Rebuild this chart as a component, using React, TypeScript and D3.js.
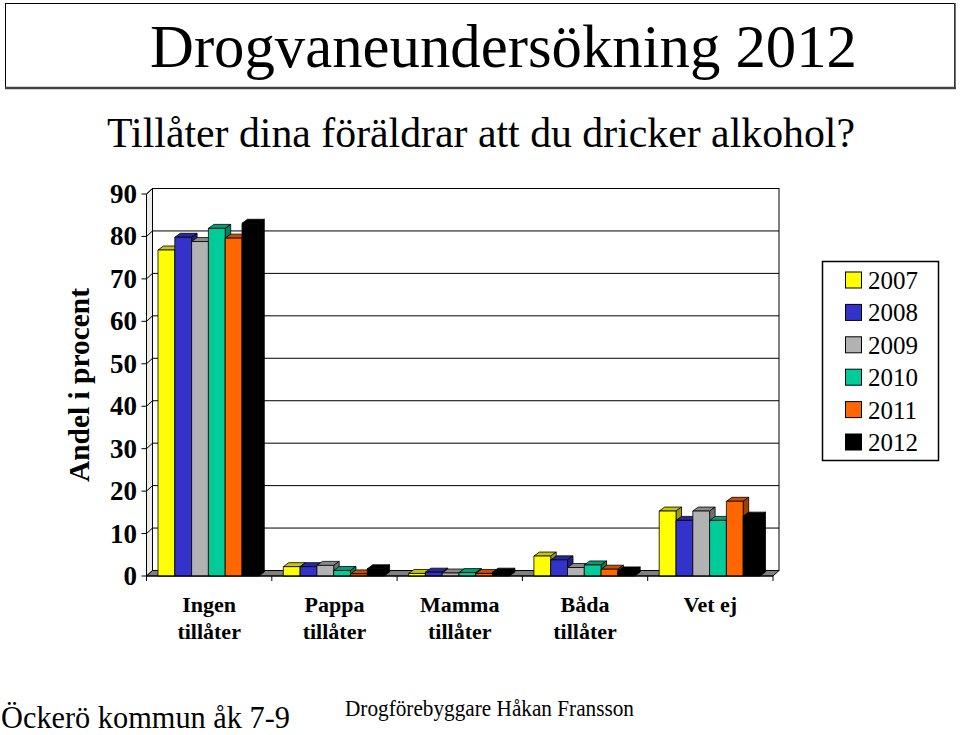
import React from "react";
import * as d3 from "d3";

const categories = ["Ingen tillåter", "Pappa tillåter", "Mamma tillåter", "Båda tillåter", "Vet ej"];
const categoryLines = [["Ingen", "tillåter"], ["Pappa", "tillåter"], ["Mamma", "tillåter"], ["Båda", "tillåter"], ["Vet ej"]];
const years = ["2007", "2008", "2009", "2010", "2011", "2012"];
const v2007 = [76.8, 2.2, 0.6, 4.7, 15.3];
const v2008 = [79.8, 2.2, 0.9, 3.8, 13.1];
const v2009 = [78.8, 2.5, 0.7, 2.0, 15.3];
const v2010 = [81.9, 1.3, 0.8, 2.6, 13.1];
const v2011 = [79.6, 0.5, 0.6, 1.6, 17.6];
const v2012 = [83.1, 1.7, 0.9, 1.2, 14.1];
const seriesValues = [v2007, v2008, v2009, v2010, v2011, v2012];
const seriesColors = ["#FFFF00", "#3333CC", "#B2B2B2", "#00CC99", "#FF6600", "#000000"];
const yTicks = [0, 10, 20, 30, 40, 50, 60, 70, 80, 90];

const FONT = "Liberation Serif, Times New Roman, serif";

export default function App() {
  const W = 960, H = 735;
  const x0 = d3.scaleBand<string>().domain(categories).range([146.5, 773]);
  const x1 = d3.scaleBand<string>().domain(years).range([11.5, 112.3]);
  const y = d3.scaleLinear().domain([0, 90]).range([576, 194]);
  const wdx = 6, wdy = 5.5; // wall depth
  const bdx = 5.5, bdy = 4; // bar depth
  const left = x0.range()[0];
  const right = x0.range()[1];
  const y0 = y(0), yTop = y(90);
  const ts = { fontFamily: FONT };

  const bars: React.ReactNode[] = [];
  categories.forEach((c, ci) => {
    years.forEach((yr, si) => {
      const v = seriesValues[si][ci];
      const x = (x0(c) as number) + (x1(yr) as number);
      const w = x1.bandwidth();
      const yt = y(v);
      const col = d3.color(seriesColors[si])!;
      const top = col.darker(0.7).formatHex();
      const side = col.darker(1.3).formatHex();
      bars.push(
        <g key={`${ci}-${si}`} stroke="#000" strokeWidth={0.8} strokeLinejoin="round">
          <path d={`M${x},${yt}L${x + bdx},${yt - bdy}L${x + w + bdx},${yt - bdy}L${x + w},${yt}Z`} fill={top} />
          <path d={`M${x + w},${yt}L${x + w + bdx},${yt - bdy}L${x + w + bdx},${y0 - bdy}L${x + w},${y0}Z`} fill={side} />
          <rect x={x} y={yt} width={w} height={y0 - yt} fill={seriesColors[si]} />
        </g>
      );
    });
  });

  return (
    <svg width={W} height={H} style={{ position: "absolute", left: 0, top: 0, background: "#fff" }} fontFamily={FONT}>
      <rect width={W} height={H} fill="#fff" />
      {/* Title box */}
      <rect x={5.5} y={3.5} width={949} height={84} fill="#fff" stroke="#000" strokeWidth={1} />
      <line x1={5} x2={956} y1={88} y2={88} stroke="#444" strokeWidth={2.5} />
      <line x1={955} x2={955} y1={3} y2={89} stroke="#444" strokeWidth={1.5} />
      <text style={ts} x={150} y={67} fontSize={61} textLength={707} lengthAdjust="spacingAndGlyphs">Drogvaneundersökning 2012</text>
      <text style={ts} x={107} y={147} fontSize={42} textLength={748} lengthAdjust="spacingAndGlyphs">Tillåter dina föräldrar att du dricker alkohol?</text>

      {/* Back wall */}
      <rect x={left + wdx} y={yTop - wdy} width={right - left} height={y0 - yTop} fill="#fff" stroke="#000" strokeWidth={1} />
      {/* Left wall */}
      <path d={`M${left},${yTop}L${left + wdx},${yTop - wdy}L${left + wdx},${y0 - wdy}L${left},${y0}Z`} fill="#ececec" stroke="#000" strokeWidth={1} />
      {/* Floor */}
      <path d={`M${left},${y0}L${left + wdx},${y0 - wdy}L${right + wdx},${y0 - wdy}L${right},${y0}Z`} fill="#7f7f7f" stroke="#000" strokeWidth={1} />
      {/* Gridlines */}
      {yTicks.filter(t => t > 0).map(t => (
        <g key={t} stroke="#000" strokeWidth={1}>
          <line x1={left + wdx} x2={right + wdx} y1={y(t) - wdy} y2={y(t) - wdy} />
          <line x1={left} x2={left + wdx} y1={y(t)} y2={y(t) - wdy} />
        </g>
      ))}
      {bars}
      {/* Axes */}
      <line x1={left} x2={left} y1={yTop} y2={y0} stroke="#000" strokeWidth={1} />
      <line x1={left} x2={right} y1={y0} y2={y0} stroke="#000" strokeWidth={1} />
      {yTicks.map(t => (
        <g key={t}>
          <line x1={left - 5} x2={left} y1={y(t)} y2={y(t)} stroke="#000" strokeWidth={1} />
          <text style={ts} x={137} y={y(t) + 9} fontSize={27} fontWeight="bold" textAnchor="end">{t}</text>
        </g>
      ))}
      {categories.map(c => (
        <line key={c} x1={x0(c)} x2={x0(c)} y1={y0} y2={y0 + 5} stroke="#000" strokeWidth={1} />
      ))}
      <line x1={right} x2={right} y1={y0} y2={y0 + 5} stroke="#000" strokeWidth={1} />
      {categories.map((c, ci) => (
        <text style={ts} key={c} x={(x0(c) as number) + x0.bandwidth() / 2} fontSize={22} fontWeight="bold" textAnchor="middle">
          {categoryLines[ci].map((ln, li) => (
            <tspan key={li} x={(x0(c) as number) + x0.bandwidth() / 2} y={612 + li * 27}>{ln}</tspan>
          ))}
        </text>
      ))}
      <text style={ts} transform="translate(89,385) rotate(-90)" fontSize={30} fontWeight="bold" textAnchor="middle" textLength={194} lengthAdjust="spacingAndGlyphs">Andel i procent</text>

      {/* Legend */}
      <rect x={822.5} y={261.5} width={116} height={199} fill="#fff" stroke="#000" strokeWidth={1.5} />
      {years.map((yr, i) => {
        const cy = 280 + i * 32.4;
        return (
          <g key={yr}>
            <rect x={845.5} y={cy - 8} width={16} height={16} fill={seriesColors[i]} stroke="#000" strokeWidth={1} />
            <text style={ts} x={868} y={cy + 9} fontSize={25}>{yr}</text>
          </g>
        );
      })}

      {/* Footer */}
      <text style={ts} x={1} y={728} fontSize={31} textLength={289} lengthAdjust="spacingAndGlyphs">Öckerö kommun åk 7-9</text>
      <text style={ts} x={345} y={716} fontSize={23} textLength={289} lengthAdjust="spacingAndGlyphs">Drogförebyggare Håkan Fransson</text>
    </svg>
  );
}
